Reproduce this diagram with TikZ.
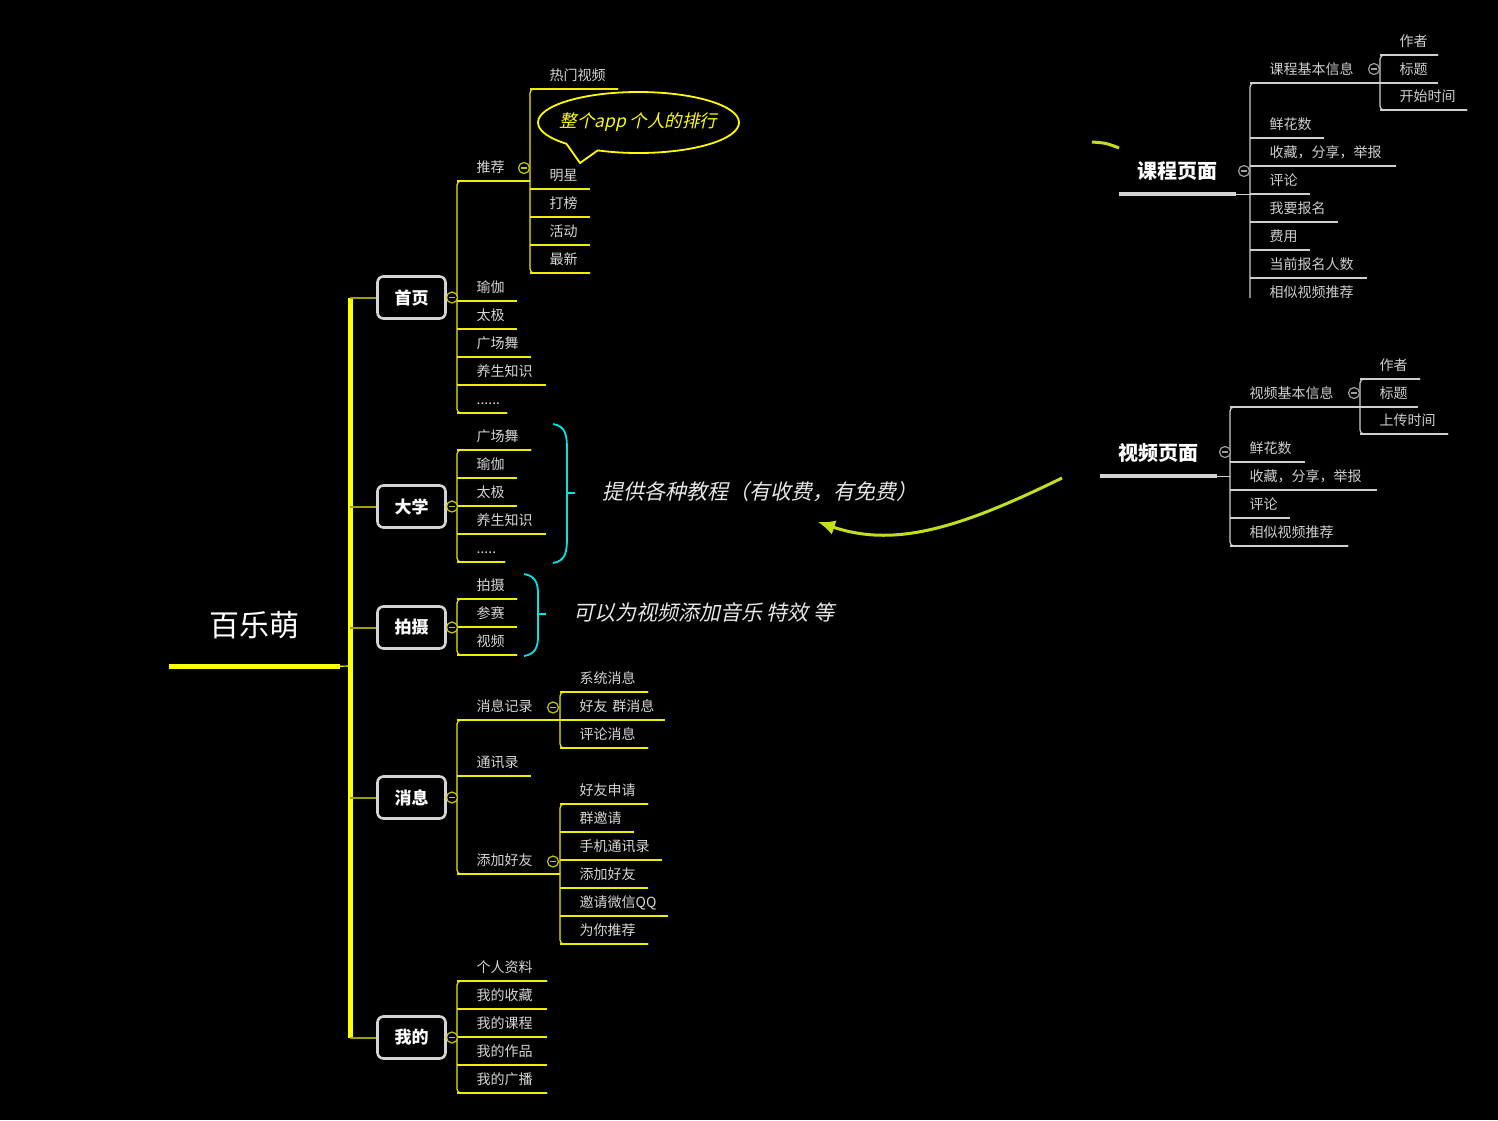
\documentclass[tikz,border=0pt]{standalone}
\usepackage{fontspec}
\setmainfont{Noto Sans CJK SC}
\newfontfamily\slantfont[FakeSlant=0.22]{Noto Sans CJK SC}
\usepackage{xcolor}
\usetikzlibrary{shapes.geometric, arrows.meta}

\definecolor{trunkyellow}{HTML}{FFFF00}
\definecolor{branchyellow}{HTML}{9E9E00}
\definecolor{twigyellow}{HTML}{EDED00}
\definecolor{foldyellow}{HTML}{C8C800}
\definecolor{leafgray}{HTML}{D6D6D6}
\definecolor{pagegray}{HTML}{CFCFCF}
\definecolor{boxgray}{HTML}{D4D4D4}
\definecolor{bracecyan}{HTML}{00E4E4}
\definecolor{arrowlime}{HTML}{C4DE1E}

\begin{document}
\begin{tikzpicture}[x=1pt, y=-1pt,
    topicbox/.style={rectangle, draw=boxgray, fill=black, line width=2.6pt, rounded corners=6pt, minimum width=68pt, minimum height=42pt, text=white, font=\fontsize{17}{20}\selectfont\bfseries},
    rootlabel/.style={minimum width=171pt, minimum height=82pt, inner sep=0pt, text=white, font=\fontsize{30}{34}\selectfont},
    pagetitle/.style={minimum width=117pt, minimum height=46pt, inner sep=0pt, text=white, font=\fontsize{20}{24}\selectfont\bfseries},
    leafbase/.style={anchor=south west, inner xsep=0pt, inner ysep=4pt, text height=12pt, text depth=4pt, text width=#1, align=left, font=\fontsize{14}{16}\selectfont, execute at begin node={\hspace*{19.5pt}}},
    leaf/.style={leafbase=#1, text=leafgray, append after command={(\tikzlastnode.south west) edge[twig] (\tikzlastnode.south east)}},
    pageleaf/.style={leafbase=#1, text=pagegray, append after command={(\tikzlastnode.south west) edge[pagetwig] (\tikzlastnode.south east)}},
    fold/.style={circle, draw=#1, fill=black, line width=1.2pt, minimum size=11pt, inner sep=0pt, path picture={\draw[#1, line width=1.1pt] ([xshift=-2.8pt]path picture bounding box.center) -- ([xshift=2.8pt]path picture bounding box.center);}},
    bubble/.style={ellipse, draw=trunkyellow, line width=1.8pt, fill=black, minimum width=201pt, minimum height=61pt, inner sep=0pt, text=trunkyellow, font=\slantfont\fontsize{17.5}{20}\selectfont},
    note/.style={anchor=west, inner sep=0pt, text=leafgray!60!white, font=\slantfont\fontsize{21}{24}\selectfont},
    trunk/.style={draw=trunkyellow, line width=5pt},
    rootbar/.style={draw=trunkyellow, line width=5pt},
    pagebar/.style={draw=boxgray, line width=4pt},
    branch/.style={draw=branchyellow, line width=2pt},
    twig/.style={draw=twigyellow, line width=1.2pt},
    pagetwig/.style={draw=pagegray, line width=1.2pt},
    bracket/.style={twig, rounded corners=4pt},
    pagebracket/.style={pagetwig, rounded corners=4pt},
    brace/.style={draw=bracecyan, line width=1.8pt},
    limearrow/.style={draw=arrowlime, line width=3pt, -{Latex[length=17pt, width=15pt]}}
]
\useasboundingbox (0,0) rectangle (1498,1120);
\fill[black] (0,0) rectangle (1498,1120);

% Root and spine
\node[rootlabel] (root) at (254.5,625) {百乐萌};
\coordinate (spine) at (350,666);
\draw[rootbar] (root.south west) -- (root.south east);
\draw[twig, draw=trunkyellow] (root.south east) -- (spine);

% Main topics
\node[topicbox] (home) at (411.5,297.5) {首页};
\node[topicbox] (college) at (411.5,506.5) {大学};
\node[topicbox] (shooting) at (411.5,627.5) {拍摄};
\node[topicbox] (message) at (411.5,797.5) {消息};
\node[topicbox] (mine) at (411.5,1037.5) {我的};

\draw[trunk] (spine |- home.west) -- (spine |- mine.west);
\draw[branch] (spine |- home.west) -- (home.west);
\draw[branch] (spine |- college.west) -- (college.west);
\draw[branch] (spine |- shooting.west) -- (shooting.west);
\draw[branch] (spine |- message.west) -- (message.west);
\draw[branch] (spine |- mine.west) -- (mine.west);

% Home: recommend list and categories
\node[leaf=73pt] (recommend) at (457,181) {推荐};
\node[leaf=88pt] (hotvideo) at (530,89) {热门视频};
\node[leaf=60pt] (star) at (530,189) {明星};
\node[leaf=60pt] (ranking) at (530,217) {打榜};
\node[leaf=60pt] (activity) at (530,245) {活动};
\node[leaf=60pt] (latest) at (530,273) {最新};
\node[leaf=60pt] (homeyoga) at (457,301) {瑜伽};
\node[leaf=60pt] (hometaichi) at (457,329) {太极};
\node[leaf=74pt] (homedance) at (457,357) {广场舞};
\node[leaf=89pt] (homehealth) at (457,385) {养生知识};
\node[leaf=50pt] (homemore) at (457,413) {......};
\draw[bracket] (recommend.south east) -- (recommend.south west) -- (homemore.south west) -- (homemore.south east);
\draw[bracket] (hotvideo.south east) -- (hotvideo.south west) -- (latest.south west) -- (latest.south east);
\node[fold=foldyellow] (homefold) at (452,297.5) {};
\node[fold=foldyellow] (recommendfold) at (524,168) {};
\draw[twig] (home.east) -- (homefold.west);

% Speech bubble on the ranking list
\node[bubble] (rankbubble) at (638.5,122.5) {\makebox[0pt]{整个app 个人的排行}};
\fill[black] (567,141) -- (567,144.5) -- (580,163) -- (598,150.5) -- (598,146) -- (582,143) -- cycle;
\draw[draw=trunkyellow, line width=1.8pt, line join=miter] (566.5,143.8) -- (580,163) -- (598,150.2);

% College
\node[leaf=74pt] (collegedance) at (457,450) {广场舞};
\node[leaf=60pt] (collegeyoga) at (457,478) {瑜伽};
\node[leaf=60pt] (collegetaichi) at (457,506) {太极};
\node[leaf=89pt] (collegehealth) at (457,534) {养生知识};
\node[leaf=48pt] (collegemore) at (457,562) {.....};
\draw[bracket] (collegedance.south east) -- (collegedance.south west) -- (collegemore.south west) -- (collegemore.south east);
\node[fold=foldyellow] (collegefold) at (452,506.5) {};
\draw[twig] (college.east) -- (collegefold.west);

% Shooting
\node[leaf=60pt] (capture) at (457,599) {拍摄};
\node[leaf=60pt] (contest) at (457,627) {参赛};
\node[leaf=60pt] (clips) at (457,655) {视频};
\draw[bracket] (capture.south east) -- (capture.south west) -- (clips.south west) -- (clips.south east);
\node[fold=foldyellow] (shootingfold) at (452,627.5) {};
\draw[twig] (shooting.east) -- (shootingfold.west);

% Braces and notes
\draw[brace] (553,424) .. controls (566,426) and (567,436) .. (567,450) -- (567,537) .. controls (567,551) and (566,561) .. (553,563);
\draw[brace] (567,493) -- (575,493);
\node[note] (tutorialnote) at (602,492) {提供各种教程（有收费，有免费）};
\draw[brace] (524,574) .. controls (536,576) and (538,584) .. (538,594) -- (538,636) .. controls (538,646) and (536,654) .. (524,656);
\draw[brace] (538,614) -- (546,614);
\node[note] (effectnote) at (573,612) {可以为视频添加音乐 特效 等};

% Message
\node[leaf=103pt] (msglog) at (457,720) {消息记录};
\node[leaf=88pt] (sysmsg) at (560,692) {系统消息};
\node[leaf=105pt] (groupmsg) at (560,720) {好友 群消息};
\node[leaf=88pt] (commentmsg) at (560,748) {评论消息};
\node[leaf=74pt] (contacts) at (457,776) {通讯录};
\node[leaf=103pt] (addfriend) at (457,874) {添加好友};
\node[leaf=88pt] (friendreq) at (560,804) {好友申请};
\node[leaf=74pt] (groupinv) at (560,832) {群邀请};
\node[leaf=102pt] (phonebook) at (560,860) {手机通讯录};
\node[leaf=88pt] (addfriendtwo) at (560,888) {添加好友};
\node[leaf=108pt] (invitewx) at (560,916) {邀请微信QQ};
\node[leaf=88pt] (suggest) at (560,944) {为你推荐};
\draw[bracket] (msglog.south east) -- (msglog.south west) -- (addfriend.south west) -- (addfriend.south east);
\draw[bracket] (sysmsg.south east) -- (sysmsg.south west) -- (commentmsg.south west) -- (commentmsg.south east);
\draw[bracket] (friendreq.south east) -- (friendreq.south west) -- (suggest.south west) -- (suggest.south east);
\node[fold=foldyellow] (messagefold) at (452,797.5) {};
\node[fold=foldyellow] (msglogfold) at (553,707.5) {};
\node[fold=foldyellow] (addfriendfold) at (553,861.5) {};
\draw[twig] (message.east) -- (messagefold.west);

% Mine
\node[leaf=90pt] (profile) at (457,981) {个人资料};
\node[leaf=90pt] (favorites) at (457,1009) {我的收藏};
\node[leaf=90pt] (mycourses) at (457,1037) {我的课程};
\node[leaf=90pt] (myworks) at (457,1065) {我的作品};
\node[leaf=90pt] (mybroadcast) at (457,1093) {我的广播};
\draw[bracket] (profile.south east) -- (profile.south west) -- (mybroadcast.south west) -- (mybroadcast.south east);
\node[fold=foldyellow] (minefold) at (452,1037.5) {};
\draw[twig] (mine.east) -- (minefold.west);

% Course page (cut off at the bottom)
\begin{scope}
\clip (1070,20) rectangle (1498,297);
\node[pagetitle] (coursepage) at (1177.5,171) {课程页面};
\draw[pagebar] (coursepage.south west) -- (coursepage.south east);
\node[pageleaf=130pt] (courseinfo) at (1250,83) {课程基本信息};
\node[pageleaf=58pt] (courseauthor) at (1380,55) {作者};
\node[pageleaf=58pt] (coursetitle) at (1380,83) {标题};
\node[pageleaf=87pt] (coursestart) at (1380,110) {开始时间};
\node[pageleaf=74pt] (courseflower) at (1250,138) {鲜花数};
\node[pageleaf=146pt] (courseshare) at (1250,166) {收藏，分享，举报};
\node[pageleaf=60pt] (coursecomment) at (1250,194) {评论};
\node[pageleaf=88pt] (coursesignup) at (1250,222) {我要报名};
\node[pageleaf=60pt] (coursefee) at (1250,250) {费用};
\node[pageleaf=117pt] (coursecount) at (1250,278) {当前报名人数};
\node[pageleaf=117pt] (coursesimilar) at (1250,306) {相似视频推荐};
\draw[pagetwig] (coursepage.south east) -- (coursepage.south east -| courseinfo.south west);
\draw[pagebracket] (courseinfo.south east) -- (courseinfo.south west) -- (coursesimilar.south west) -- (coursesimilar.south east);
\draw[pagebracket] (courseauthor.south east) -- (courseauthor.south west) -- (coursestart.south west) -- (coursestart.south east);
\node[fold=gray!75] (coursefold) at (1244,171) {};
\node[fold=gray!75] (courseinfofold) at (1374,69) {};
\coordinate (coursetailstart) at (1092,142);
\coordinate (coursetailend) at (1119,148);
\draw[draw=arrowlime, line width=3pt] (coursetailstart) .. controls (1106,143) .. (coursetailend);
\end{scope}

% Video page
\node[pagetitle] (videopage) at (1158.5,453) {视频页面};
\draw[pagebar] (videopage.south west) -- (videopage.south east);
\node[pageleaf=130pt] (videoinfo) at (1230,407) {视频基本信息};
\node[pageleaf=60pt] (videoauthor) at (1360,379) {作者};
\node[pageleaf=58pt] (videotitle) at (1360,407) {标题};
\node[pageleaf=88pt] (videoupload) at (1360,434) {上传时间};
\node[pageleaf=75pt] (videoflower) at (1230,462) {鲜花数};
\node[pageleaf=147pt] (videoshare) at (1230,490) {收藏，分享，举报};
\node[pageleaf=60pt] (videocomment) at (1230,518) {评论};
\node[pageleaf=118pt] (videosimilar) at (1230,546) {相似视频推荐};
\draw[pagetwig] (videopage.south east) -- (videopage.south east -| videoinfo.south west);
\draw[pagebracket] (videoinfo.south east) -- (videoinfo.south west) -- (videosimilar.south west) -- (videosimilar.south east);
\draw[pagebracket] (videoauthor.south east) -- (videoauthor.south west) -- (videoupload.south west) -- (videoupload.south east);
\node[fold=gray!75] (videofold) at (1225,452) {};
\node[fold=gray!75] (videoinfofold) at (1354,393) {};

% Arrow from the video page towards the tutorials note
\coordinate (videotail) at (1062,478);
\coordinate (tutorialhead) at (818,522);
\draw[limearrow] (videotail) .. controls (960,528) and (895,548) .. (tutorialhead);

\end{tikzpicture}
\end{document}
